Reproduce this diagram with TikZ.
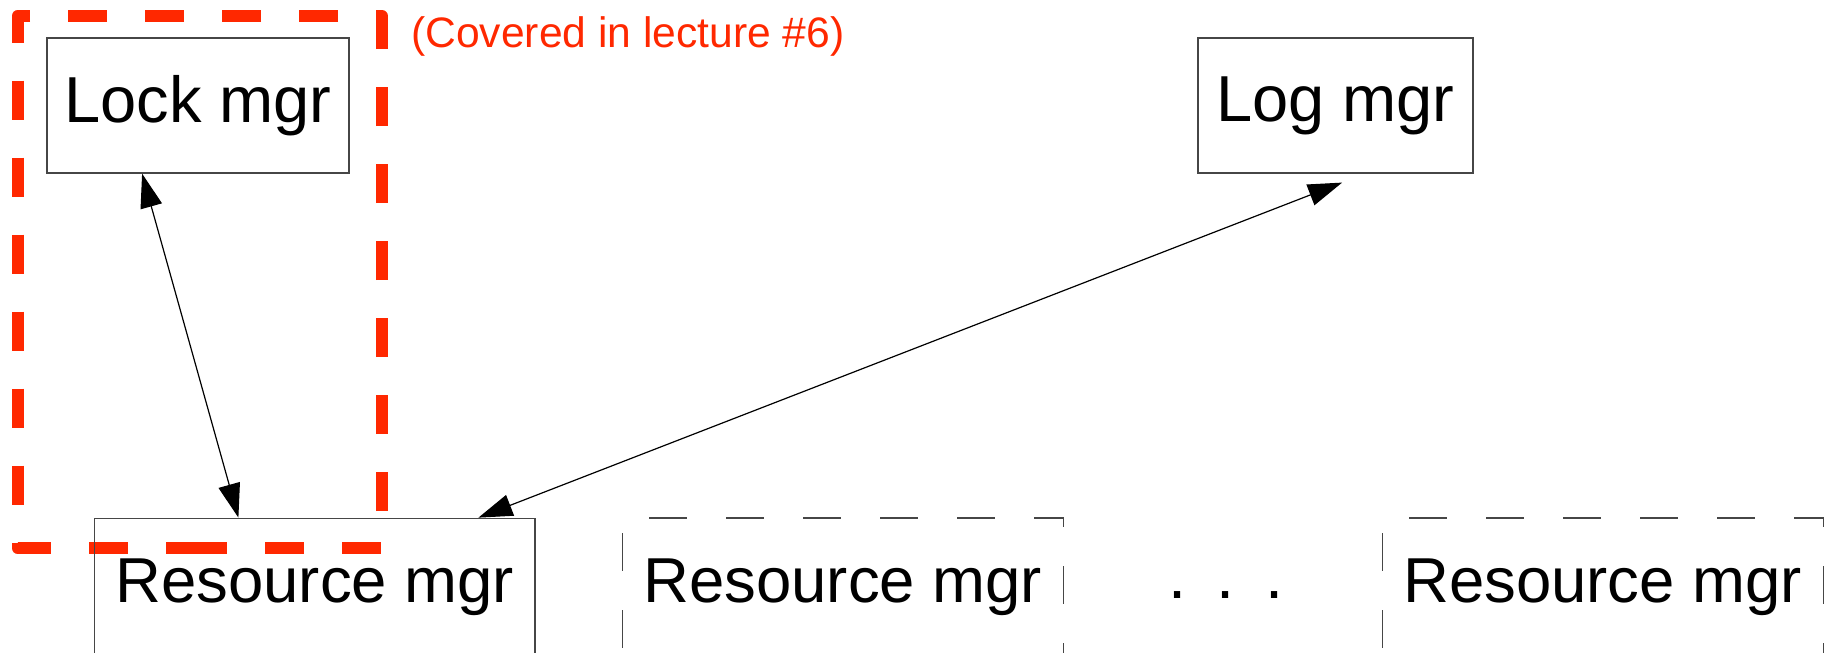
\documentclass[tikz,border=0pt]{standalone}
\usepackage{fontspec}
\setmainfont{Liberation Sans}
\usetikzlibrary{arrows.meta}
\definecolor{lecred}{RGB}{255,40,0}
\definecolor{edgegray}{RGB}{70,70,70}
\begin{document}
\begin{tikzpicture}[x=1pt,y=-1pt,
  labelfont/.style={font=\fontsize{65}{78}\selectfont},
  box/.style={draw=edgegray, line width=1.2pt, inner sep=0pt, labelfont},
  rbox/.style={inner sep=0pt, minimum width=440.5pt, minimum height=137.5pt, font=\fontsize{63.5}{76}\selectfont},
  dashedge/.style={draw=edgegray, line width=1.2pt, dash pattern=on 38pt off 39pt, dash phase=50pt},
  link/.style={line width=1.2pt, {Triangle[length=34pt,width=22pt]}-{Triangle[length=34pt,width=22pt]}},
  lecture/.style={draw=lecred, line width=12pt, line join=round, dash pattern=on 39pt off 38pt, dash phase=12pt}
]
\useasboundingbox (0,0) rectangle (1829,653);

% region of the components covered in the lecture
\draw[lecture] (200,548) -- (382,548) -- (382,16) -- (17.5,16) -- (17.5,548) -- cycle;
\node[anchor=base west, text=lecred, font=\fontsize{42.6}{51}\selectfont, inner sep=0pt]
  (note) at (411,47) {(Covered in lecture \#6)};

% managers
\node[box, minimum width=302pt, minimum height=135pt] (lock) at (198,105.5) {Lock mgr};
\node[box, minimum width=275pt, minimum height=135pt] (log) at (1335.5,105.5) {Log mgr};

\node[rbox, draw=edgegray, line width=1.2pt] (r1) at (314.75,587) {Resource mgr};
\node[rbox] (r2) at (842.85,587) {Resource mgr};
\node[rbox] (r3) at (1602.65,587) {Resource mgr};
\draw[dashedge] (r2.north west) -- (r2.north east) -- (r2.south east) -- (r2.south west) -- cycle;
\draw[dashedge] (r3.north west) -- (r3.north east) -- (r3.south east) -- (r3.south west) -- cycle;

\node[anchor=base, inner sep=0pt, labelfont] (dots) at (1226,598.3) {.\hspace{30.2pt}.\hspace{30.2pt}.};

% interactions
\draw[link] ([xshift=144.5pt]r1.north west) -- ([xshift=95.7pt]lock.south west);
\draw[link] ([xshift=384.5pt]r1.north west) -- ([xshift=144.7pt,yshift=-9pt]log.south west);
\end{tikzpicture}
\end{document}
